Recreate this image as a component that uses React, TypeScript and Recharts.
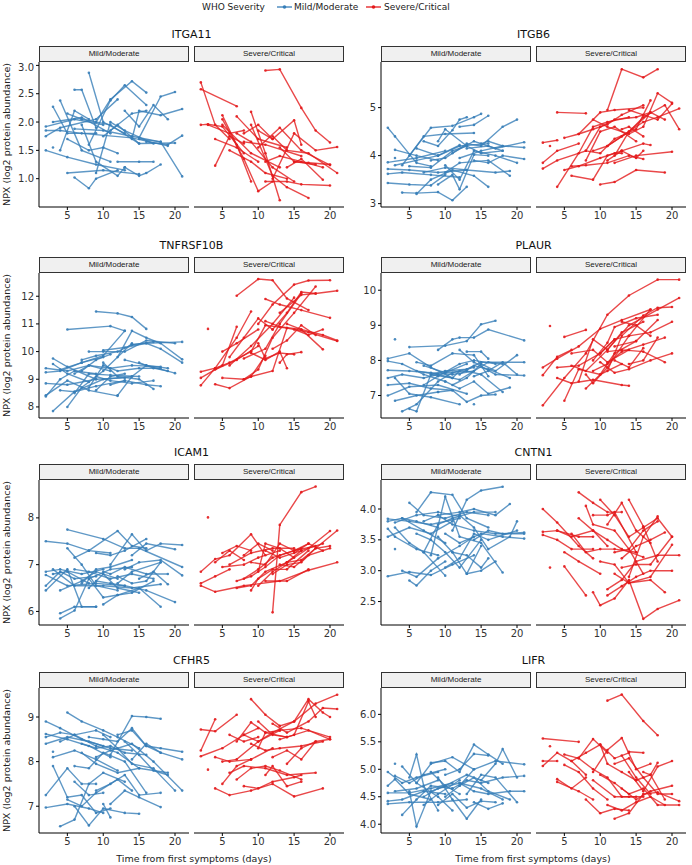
import { LineChart, Line, XAxis, YAxis } from 'recharts'

const BLUE = '#377EB8'
const RED = '#E41A1C'

// one entry per patient: day, NPX, day, NPX, ...
const itga11Mild = [
  [2, 1.92, 6, 2.05, 10, 1.95], [2, 1.75, 4, 1.9, 9, 2.05, 12, 2.4], [2, 1.5, 5, 1.38, 9, 1.25, 13, 1.15],
  [3, 2.27, 5, 1.8, 9, 1.8], [3, 1.55], [4, 2.38, 7, 1.5, 11, 1.3], [4, 1.5, 6, 2.2, 8, 2.05],
  [5, 2.15, 7, 2.05, 11, 1.95, 15, 1.62], [5, 1.1, 10, 1.15, 15, 1.08], [6, 2.57, 7, 2.57, 9, 1.9],
  [6, 1.02, 8, 0.83, 9, 1.0, 12, 1.15], [6, 1.88, 10, 1.85, 14, 1.75, 18, 1.65], [7, 1.95, 9, 1.3, 12, 1.05, 13, 1.2],
  [8, 2.87, 10, 2.0, 13, 1.8], [8, 1.6, 11, 2.38, 13, 2.65, 16, 2.3], [9, 2.0, 11, 2.4, 14, 2.72, 16, 2.52],
  [9, 1.1, 11, 2.0, 13, 1.85, 17, 1.62], [10, 1.75, 12, 1.95, 15, 1.62, 20, 1.63], [11, 1.85, 14, 2.15, 16, 2.2],
  [12, 1.3, 15, 1.3, 17, 1.3], [13, 2.2, 15, 1.92, 17, 2.3, 19, 2.05], [13, 1.2, 15, 1.05, 16, 1.1, 18, 1.25],
  [14, 1.7, 15, 2.2, 18, 2.12, 21, 2.23], [15, 1.72, 18, 2.45, 20, 2.53], [15, 1.7, 18, 1.65, 21, 1.04],
  [16, 1.65, 19, 1.6, 21, 1.76], [5, 1.7, 8, 1.5, 10, 1.55, 12, 1.45], [2, 1.85, 4, 1.85, 7, 1.8, 14, 1.72, 19, 1.58],
  [3, 2.0, 7, 2.08, 11, 1.8],
]
const itga11Severe = [
  [2, 2.7, 4, 1.95, 6, 1.7], [2, 2.58, 7, 2.28], [2, 1.95, 3, 1.96, 5, 1.92, 8, 1.45], [4, 1.7, 7, 1.55, 10, 1.3],
  [4, 1.23, 6, 1.75, 8, 1.62], [5, 2.12, 7, 1.6, 9, 0.95], [5, 2.05, 8, 1.35, 10, 0.78, 12, 0.95],
  [5, 1.95, 9, 1.45, 13, 1.2], [6, 1.5, 9, 1.3, 11, 1.1, 14, 1.0], [7, 2.1, 10, 1.7, 14, 1.55],
  [7, 1.8, 9, 1.65, 12, 1.2, 15, 0.95], [8, 1.65, 11, 1.6, 16, 1.4], [9, 2.18, 11, 1.45, 13, 0.62],
  [9, 1.95, 12, 1.05, 14, 0.85, 17, 0.66], [10, 1.85, 12, 1.7, 15, 2.03, 16, 1.6], [10, 1.55, 13, 1.9, 16, 1.5, 20, 1.24],
  [11, 2.91, 13, 2.93, 16, 2.25, 18, 1.85, 20, 1.64], [11, 0.95, 14, 0.95, 16, 0.9, 20, 0.88],
  [11, 1.3, 13, 1.4, 16, 1.3, 19, 1.2], [12, 1.0, 15, 1.8, 18, 1.5, 21, 1.56], [12, 1.75, 14, 1.5, 17, 1.45, 21, 1.1],
  [13, 1.55, 15, 1.3, 18, 1.25], [14, 1.2, 16, 1.35, 19, 0.98], [15, 1.3, 17, 1.28, 20, 1.25],
  [3, 1.95, 6, 1.8, 8, 1.85], [8, 1.8, 10, 1.95, 12, 1.7],
]
const itgb6Mild = [
  [2, 4.58, 3, 4.4, 6, 3.85, 8, 3.78], [2, 3.86, 6, 3.95, 10, 4.1], [2, 3.72, 5, 3.7, 9, 3.65, 13, 3.7],
  [2, 3.62, 4, 3.65, 8, 3.6, 12, 3.55], [2, 3.43, 5, 3.4, 8, 3.38, 10, 3.6], [3, 4.12, 6, 4.0, 9, 3.9], [3, 3.95],
  [4, 3.23, 6, 3.22, 9, 3.24, 11, 3.07, 13, 3.35], [4, 3.8, 7, 4.4, 10, 4.45, 14, 4.47],
  [5, 4.0, 8, 4.58, 11, 4.62, 14, 4.8, 15, 4.87], [5, 3.78, 8, 3.75, 11, 4.1, 13, 4.2],
  [6, 3.2, 8, 3.5, 11, 3.7, 14, 3.58, 16, 3.35], [6, 4.15, 9, 4.0, 12, 4.2, 16, 4.25],
  [7, 3.65, 10, 3.75, 13, 3.7, 17, 3.65, 19, 3.68], [7, 4.3, 9, 4.2, 11, 4.53, 12, 4.75, 13, 4.8],
  [8, 3.9, 10, 3.95, 13, 4.25, 15, 4.2, 18, 4.6, 20, 4.75], [9, 3.4, 11, 3.6, 12, 3.3, 14, 4.02, 16, 4.0],
  [9, 4.3, 10, 4.55, 13, 4.2, 15, 4.05, 18, 4.1], [10, 3.8, 12, 3.5, 14, 4.1, 17, 4.0, 20, 3.85],
  [10, 3.65, 12, 3.85, 16, 3.9, 19, 3.58], [11, 4.05, 14, 4.3, 17, 4.15, 21, 4.28], [12, 3.95, 15, 4.1, 18, 4.2, 21, 4.17],
  [13, 4.15, 16, 4.2, 18, 4.1], [14, 3.9, 16, 3.85, 18, 4.0, 21, 3.93], [15, 4.25, 16, 4.3, 18, 4.2],
  [3, 3.8, 6, 3.9, 9, 4.0, 12, 4.22], [12, 4.6, 14, 4.64, 16, 4.83],
]
const itgb6Severe = [
  [2, 4.27, 4, 4.32], [3, 4.2], [2, 3.85, 4, 4.1, 7, 4.25], [2, 3.73, 4, 3.9, 8, 4.1, 10, 4.6], [4, 4.9, 8, 4.88],
  [4, 3.35, 7, 4.05, 9, 4.6, 11, 4.7, 14, 4.8], [5, 3.7, 7, 3.78, 10, 3.95, 13, 4.1],
  [5, 4.37, 7, 4.45, 10, 4.9, 12, 4.95, 16, 5.0], [6, 3.78, 8, 3.8, 11, 3.85, 14, 4.0, 16, 3.93],
  [6, 3.58, 9, 3.5, 11, 4.0, 12, 4.05, 13, 4.05], [7, 4.45, 9, 4.55, 11, 4.65, 13, 4.85, 16, 5.05],
  [8, 4.1, 10, 4.05, 12, 4.35, 15, 4.55, 17, 5.15], [9, 4.75, 11, 4.6, 14, 4.45, 16, 4.6, 18, 5.3, 20, 5.1],
  [10, 3.4, 12, 3.45, 15, 3.7, 19, 3.65], [10, 4.6, 12, 4.75, 15, 4.8, 17, 4.9], [11, 4.95, 13, 5.8, 16, 5.63, 18, 5.8],
  [11, 3.9, 13, 4.1, 16, 4.25, 17, 4.22], [11, 4.2, 13, 4.4, 16, 4.7, 18, 4.8, 21, 4.98],
  [12, 4.0, 14, 4.5, 16, 4.8, 19, 5.05, 21, 4.55], [12, 3.85, 15, 4.0, 20, 4.08], [13, 4.55, 14, 4.6, 16, 4.4],
  [14, 4.95, 16, 4.85, 18, 4.75, 20, 5.08], [8, 3.9, 10, 4.5, 12, 4.6, 15, 4.3], [9, 4.1, 11, 4.2, 14, 4.5, 17, 4.9, 19, 4.75],
  [13, 4.1, 15, 3.95, 16, 4.1],
]
const tnfMild = [
  [2, 9.4, 5, 9.3, 8, 9.5, 11, 9.3], [2, 9.25, 4, 9.3, 7, 9.6, 10, 9.8], [2, 8.85, 5, 8.8, 9, 9.0, 13, 9.05],
  [2, 8.38, 4, 9.0, 6, 9.3, 9, 9.2], [2, 8.42, 5, 8.95, 8, 8.6, 12, 8.4], [3, 9.55, 5, 9.2, 8, 8.9],
  [3, 7.85, 6, 8.55, 10, 9.0, 14, 9.1], [3, 9.75, 5, 9.45, 9, 9.0], [4, 8.6, 6, 8.55, 9, 8.75, 13, 8.95],
  [4, 9.35, 7, 9.6, 10, 9.85, 13, 10.75], [5, 10.8, 11, 10.92, 13, 10.75], [5, 8.0, 7, 8.7, 10, 9.3, 14, 10.3],
  [6, 9.2, 8, 9.5, 11, 9.4, 14, 9.5, 18, 9.45], [6, 8.5, 8, 9.2, 11, 9.15, 15, 9.1],
  [7, 9.7, 9, 9.85, 12, 10.0, 14, 10.25, 17, 10.35], [8, 10.0, 10, 10.0, 13, 10.0, 16, 10.4, 20, 10.3],
  [8, 8.7, 10, 9.5, 12, 9.3, 15, 9.4, 18, 9.4], [9, 11.45, 12, 11.38, 14, 11.25, 16, 10.82],
  [9, 9.1, 11, 8.95, 14, 8.85, 17, 8.95], [10, 9.6, 12, 9.1, 15, 9.0, 17, 8.65], [10, 10.05, 13, 10.15, 16, 10.3, 21, 10.35],
  [11, 8.8, 13, 8.95, 16, 8.8, 18, 8.75], [12, 8.42, 14, 9.1, 16, 9.5, 19, 9.4],
  [12, 9.8, 14, 10.75, 16, 10.5, 18, 10.3, 21, 9.72], [13, 9.7, 16, 9.5, 20, 9.22], [14, 10.25, 16, 10.3, 18, 10.1, 21, 9.6],
  [15, 9.6, 17, 9.4, 19, 9.3], [7, 9.3, 9, 9.7, 11, 9.9], [9, 8.6, 11, 9.1, 13, 9.2],
]
const tnfSevere = [
  [2, 9.27, 4, 9.4, 6, 9.6, 9, 10.0], [2, 9.05, 5, 9.5, 7, 10.9], [2, 8.78, 4, 9.4, 7, 10.5, 9, 11.45], [3, 10.82],
  [4, 9.35, 7, 9.7, 10, 10.2], [4, 8.82, 6, 8.68, 9, 9.1, 12, 9.3, 14, 10.85], [5, 10.0, 7, 10.3, 10, 10.8],
  [5, 9.05, 8, 9.0, 9, 9.1, 11, 9.85], [6, 9.5, 9, 10.2, 12, 11.0, 15, 11.95],
  [7, 12.02, 10, 12.62, 12, 12.58, 14, 11.92, 17, 11.5], [8, 9.75, 11, 10.1, 13, 11.0, 16, 12.1],
  [8, 9.0, 10, 9.35, 12, 10.5, 15, 11.4, 18, 12.35], [9, 10.0, 11, 10.95, 14, 10.85, 17, 10.7, 21, 10.38],
  [9, 9.95, 11, 9.7, 13, 10.0, 14, 9.4], [10, 10.3, 11, 9.75, 13, 9.95, 15, 9.9],
  [10, 11.0, 12, 11.7, 15, 12.42, 17, 12.57, 20, 12.58], [11, 11.9, 13, 11.7, 16, 11.5, 20, 11.22],
  [11, 11.1, 13, 10.9, 16, 10.8, 19, 10.08], [12, 10.1, 14, 10.4, 16, 10.95, 18, 10.6],
  [12, 10.8, 14, 11.4, 16, 12.15, 18, 12.1, 21, 12.2], [13, 9.6, 14, 9.9, 16, 9.98], [13, 11.4, 16, 12.05, 18, 12.1],
  [14, 11.0, 16, 10.8, 19, 10.6, 21, 10.4], [6, 9.8, 8, 10.5, 10, 11.2, 12, 10.8], [15, 10.8, 17, 10.6, 19, 10.8],
]
const plaurMild = [
  [2, 8.05, 5, 8.2, 8, 7.8, 11, 7.5], [2, 7.98, 4, 7.9, 7, 7.6, 10, 7.4], [2, 7.72, 5, 7.7, 8, 7.65, 11, 7.6, 14, 7.7],
  [2, 7.5, 4, 7.6, 7, 7.5, 9, 7.6], [2, 7.3, 5, 7.35, 8, 7.2, 11, 7.15], [2, 7.0, 5, 7.25, 9, 7.3, 13, 7.05], [3, 8.6],
  [3, 7.5, 5, 7.05, 8, 6.95, 12, 6.75], [3, 6.85, 6, 7.0, 9, 7.1], [4, 6.55, 6, 6.75, 9, 7.4, 11, 7.65, 14, 7.8],
  [5, 8.38, 10, 8.42, 13, 8.55, 15, 9.03, 17, 9.13], [5, 6.62, 6, 6.55, 8, 7.6, 11, 7.5, 12, 7.7],
  [6, 7.95, 8, 7.85, 11, 8.2, 14, 8.15, 16, 7.55], [6, 7.7, 9, 7.6, 12, 7.45, 16, 7.95, 18, 7.9],
  [7, 7.3, 9, 7.55, 12, 7.9, 14, 8.0, 17, 7.9], [8, 7.6, 10, 7.7, 13, 7.75, 15, 7.95, 21, 7.95],
  [9, 8.3, 11, 8.6, 12, 8.65, 14, 8.65, 16, 8.88, 21, 8.57], [9, 7.1, 11, 7.15, 13, 6.82, 15, 7.0, 17, 7.03],
  [10, 7.4, 12, 7.2, 14, 7.4, 16, 7.05, 19, 7.23], [10, 7.65, 13, 7.7, 15, 7.6, 18, 7.1],
  [11, 7.3, 13, 7.5, 15, 7.9, 17, 7.7, 20, 8.15], [12, 7.6, 14, 7.85, 16, 7.75, 19, 7.5],
  [12, 8.3, 14, 7.95, 17, 7.6, 21, 7.57], [13, 8.25, 15, 8.25, 16, 8.05], [14, 6.75],
  [14, 7.55, 16, 7.7, 18, 7.95, 20, 7.6], [7, 7.85, 10, 7.65, 13, 7.9],
]
const plaurSevere = [
  [2, 6.72, 5, 7.5, 8, 8.2, 11, 9.3, 14, 9.85, 18, 10.3, 21, 10.3], [2, 7.8, 4, 8.05, 7, 8.4, 10, 8.9, 13, 9.15, 17, 9.45],
  [2, 7.58, 4, 8.1, 6, 8.3], [3, 8.98], [4, 7.8, 7, 7.85, 10, 8.2, 12, 8.6], [4, 7.5, 6, 7.35, 9, 7.45, 13, 7.3, 14, 7.28],
  [5, 8.67, 8, 8.87], [5, 6.85, 7, 7.75, 10, 7.6, 13, 7.9], [6, 7.85, 8, 7.7, 11, 8.3, 14, 9.0, 18, 9.45, 21, 9.78],
  [7, 7.4, 9, 8.6, 11, 8.3, 13, 8.8, 16, 9.1], [8, 7.2, 10, 7.6, 12, 8.2, 15, 8.55],
  [8, 7.6, 9, 7.35, 11, 7.8, 14, 8.7, 17, 9.45], [9, 7.7, 11, 7.9, 13, 8.25, 16, 8.45, 19, 8.65],
  [9, 8.0, 11, 8.5, 12, 8.95, 15, 9.2, 18, 9.3], [10, 8.2, 12, 8.6, 14, 8.7, 17, 8.8, 20, 9.1],
  [10, 7.95, 12, 7.65, 14, 7.75, 17, 8.0, 20, 8.2], [11, 8.25, 13, 8.3, 16, 8.25, 19, 7.95],
  [11, 7.7, 13, 8.7, 16, 9.28, 18, 9.5, 20, 9.52], [12, 8.0, 14, 7.8, 16, 8.35], [12, 8.4, 15, 8.55, 18, 9.15],
  [13, 9.1, 15, 9.0, 17, 8.7], [14, 7.9, 16, 8.0, 18, 8.65], [6, 8.2, 9, 8.3, 11, 7.95, 14, 8.3],
]
const icam1Mild = [
  [2, 7.5, 5, 7.45, 8, 7.3, 11, 7.25], [2, 6.85, 4, 6.9, 7, 6.8, 10, 6.9], [2, 6.78, 5, 6.55, 9, 6.6, 13, 6.55],
  [2, 6.55, 4, 6.85, 6, 6.7, 9, 6.75], [2, 6.45, 5, 6.9, 7, 6.1, 9, 6.1], [3, 6.9, 6, 6.55, 10, 6.55, 14, 6.5, 18, 6.58],
  [4, 5.85, 6, 6.02, 8, 6.7, 11, 6.9, 14, 6.95], [4, 5.96, 6, 6.1, 9, 6.1], [4, 6.45, 7, 6.65, 9, 6.85, 12, 6.7],
  [5, 7.75, 10, 7.55, 13, 7.35, 15, 7.35, 21, 6.95], [5, 7.35, 7, 7.0, 9, 6.55, 12, 6.45],
  [6, 6.9, 8, 6.85, 11, 6.7, 14, 6.8, 17, 6.7], [6, 7.15, 8, 7.3, 12, 7.72, 14, 7.4, 16, 7.35],
  [7, 6.6, 9, 6.9, 11, 6.95, 14, 7.1], [8, 6.5, 10, 6.8, 12, 6.5, 15, 6.4], [8, 6.7, 10, 6.3, 12, 6.35, 15, 6.5, 18, 6.1],
  [9, 7.25, 11, 7.2, 13, 7.3, 16, 7.55], [9, 6.65, 11, 6.6, 13, 6.55, 16, 6.45, 20, 6.2],
  [10, 6.85, 11, 6.8, 13, 6.95, 16, 6.8, 19, 6.8], [10, 6.15, 12, 6.35, 14, 6.4, 17, 6.65],
  [11, 7.0, 14, 7.65, 16, 7.3, 18, 7.45, 21, 7.42], [12, 6.75, 14, 6.6, 16, 6.65, 18, 7.05],
  [13, 6.9, 15, 7.05, 18, 7.1, 21, 6.77], [14, 7.2, 16, 7.45, 20, 7.33], [15, 6.7, 17, 6.85, 19, 6.58],
  [3, 6.8, 5, 6.85, 8, 6.6], [12, 6.6, 14, 6.85, 18, 7.05],
]
const icam1Severe = [
  [2, 6.85, 4, 7.12, 6, 7.2, 9, 7.65, 11, 7.2], [2, 6.6, 4, 6.75, 6, 6.9], [2, 6.55, 4, 6.42, 8, 6.55, 13, 6.65, 17, 6.88, 21, 7.05],
  [3, 8.01], [4, 7.05, 6, 7.3, 8, 7.1], [5, 7.25, 7, 7.4, 9, 7.3], [5, 6.95, 8, 7.0, 10, 7.15, 13, 7.3],
  [6, 7.0, 9, 7.25, 12, 7.35, 15, 7.35], [7, 6.5, 9, 6.55, 11, 6.85, 14, 7.05, 16, 7.3],
  [7, 6.65, 9, 6.75, 11, 6.95, 13, 7.2, 16, 7.35], [8, 6.7, 10, 6.9, 12, 7.15, 15, 7.3, 17, 7.45],
  [9, 6.45, 10, 6.7, 12, 6.9, 14, 6.9, 17, 7.3], [9, 7.05, 11, 7.0, 13, 7.45, 15, 7.3, 18, 7.4],
  [10, 6.55, 12, 6.85, 14, 7.05, 17, 7.35, 20, 7.72], [10, 6.85, 11, 7.45, 13, 7.35, 15, 7.15],
  [11, 7.3, 13, 7.15, 16, 7.3, 19, 7.45], [12, 5.98, 13, 7.85, 16, 8.55, 18, 8.67], [11, 6.65, 14, 6.65, 17, 6.9],
  [12, 6.8, 14, 7.0, 16, 7.05, 18, 7.35, 21, 7.73], [13, 7.0, 15, 6.95, 17, 7.2, 20, 7.35],
  [14, 7.05, 16, 7.1, 18, 7.35, 20, 7.4], [8, 7.2, 10, 7.45, 12, 7.3], [15, 7.25, 17, 7.45, 19, 7.3],
]
const cntn1Mild = [
  [2, 3.84, 5, 3.8, 8, 3.75, 12, 3.85], [2, 3.8, 4, 3.85, 7, 3.65, 10, 3.45], [2, 3.68, 3, 3.55, 6, 3.35, 9, 3.25],
  [2, 3.55, 5, 3.7, 8, 3.6, 11, 3.8], [2, 2.91, 5, 2.98, 8, 2.93, 11, 3.1, 14, 3.25], [3, 3.35],
  [3, 3.7, 5, 3.45, 7, 3.3, 10, 2.92], [4, 3.0, 6, 2.9, 9, 3.2, 12, 3.4, 14, 3.55],
  [5, 4.1, 7, 3.9, 10, 3.85, 13, 3.95, 16, 3.9], [5, 2.84, 6, 2.76, 8, 3.0, 10, 3.15],
  [6, 3.95, 8, 4.27, 11, 4.23, 13, 3.85, 16, 3.7], [6, 3.6, 8, 3.5, 10, 3.3, 12, 3.05, 15, 3.5],
  [7, 3.8, 9, 3.9, 11, 3.75, 14, 3.65, 17, 3.6, 21, 3.6], [7, 3.3, 9, 3.75, 11, 3.85, 14, 3.95, 17, 3.95],
  [8, 3.25, 10, 4.2, 12, 3.55, 15, 3.45, 18, 2.97], [9, 3.55, 11, 3.3, 13, 2.95, 15, 3.4],
  [9, 3.9, 12, 3.95, 14, 4.0, 17, 3.9, 19, 4.08], [10, 3.6, 12, 3.45, 15, 3.6, 18, 3.55, 21, 3.52],
  [10, 3.05, 12, 3.2, 14, 3.6, 16, 3.5, 20, 3.65], [11, 3.3, 13, 3.25, 15, 3.05, 16, 3.2],
  [11, 3.65, 13, 4.15, 15, 4.3, 18, 4.36], [12, 3.9, 14, 3.7, 16, 3.35, 19, 3.55, 20, 3.8],
  [13, 2.95, 15, 3.0, 17, 3.15], [14, 3.5, 16, 3.65, 18, 3.6, 21, 3.62], [4, 3.85, 6, 3.8, 9, 3.7],
  [3, 3.78, 6, 3.9, 9, 3.95, 12, 3.88],
]
const cntn1Severe = [
  [2, 4.0, 4, 3.78, 7, 3.4, 9, 3.2], [2, 3.63, 4, 3.65, 7, 3.55, 9, 3.55], [2, 3.58, 4, 3.5, 6, 3.35, 9, 3.35], [3, 3.05],
  [4, 3.65, 6, 3.55, 9, 3.65, 11, 3.4], [5, 3.3, 7, 3.15, 10, 2.95], [5, 3.07, 8, 2.6],
  [6, 3.6, 8, 3.3, 10, 3.35, 12, 3.35, 15, 3.3], [7, 4.27, 9, 4.1, 11, 3.95, 13, 3.95],
  [7, 3.85, 9, 3.65, 11, 3.5, 13, 3.35, 16, 3.22], [8, 4.05, 9, 3.75, 12, 3.65, 14, 3.35, 16, 2.95],
  [9, 2.65, 10, 2.44, 12, 2.55, 14, 2.85, 16, 2.22, 18, 2.38, 21, 2.52], [9, 3.9, 11, 3.9, 12, 3.95, 15, 3.3],
  [10, 4.15, 12, 3.9, 14, 3.55, 16, 3.7], [10, 3.15, 12, 3.1, 14, 2.8, 17, 2.85, 19, 2.65],
  [11, 2.7, 13, 2.85, 15, 3.15, 18, 3.25, 21, 3.25], [11, 3.75, 13, 4.1, 15, 3.65, 17, 3.45],
  [11, 2.6, 13, 2.75, 15, 2.9, 17, 3.0, 20, 3.0], [12, 3.3, 14, 3.35, 16, 3.65, 18, 3.8],
  [12, 2.95, 14, 2.8, 17, 2.9, 20, 3.42], [13, 3.2, 15, 3.4, 17, 3.5, 19, 3.62], [14, 2.9, 16, 3.55, 18, 3.88],
  [14, 4.15, 16, 3.72, 18, 3.15], [13, 3.05, 15, 3.1, 17, 3.1, 20, 3.55], [16, 3.7, 18, 3.85, 20, 3.55],
]
const cfhr5Mild = [
  [2, 8.9, 4, 8.75, 7, 8.5, 10, 8.35], [2, 8.62, 5, 8.5, 8, 8.35, 11, 8.1], [2, 8.55, 4, 8.65, 6, 8.6, 9, 8.7, 11, 8.55],
  [2, 8.4, 5, 8.55, 8, 8.45, 11, 8.3, 14, 8.25], [2, 7.25, 5, 7.85, 7, 7.5, 9, 7.5], [2, 6.97, 5, 7.05, 8, 6.95, 10, 6.85],
  [3, 8.22], [3, 8.1, 6, 8.25, 9, 8.05, 12, 7.8], [3, 7.9, 5, 7.2, 7, 7.25, 9, 6.85, 11, 6.95],
  [4, 8.45, 6, 8.6, 9, 8.35, 12, 8.2, 15, 7.85], [4, 6.55, 6, 6.7, 8, 7.5, 10, 7.75, 13, 7.55],
  [5, 9.1, 7, 8.9, 10, 8.7, 12, 8.55, 15, 8.3], [5, 7.15, 7, 7.0, 9, 7.3, 12, 7.6, 14, 7.35],
  [6, 7.9, 8, 7.85, 10, 8.2, 13, 8.0, 16, 7.3], [6, 7.0, 8, 6.57, 10, 6.95, 13, 6.85, 15, 6.83],
  [7, 8.4, 9, 8.3, 11, 8.35, 13, 8.2, 16, 8.15], [7, 8.2, 9, 7.95, 12, 7.75, 15, 7.85, 19, 7.75],
  [8, 8.55, 10, 8.5, 12, 8.45, 14, 8.75, 16, 8.35, 18, 8.2], [9, 8.1, 11, 8.25, 14, 8.4, 17, 8.0, 21, 7.35],
  [9, 7.35, 11, 7.5, 13, 7.7, 15, 7.25, 18, 7.3], [10, 8.6, 12, 8.3, 14, 7.95, 17, 7.85, 20, 7.35],
  [11, 8.15, 14, 9.02, 16, 9.0, 18, 8.96], [11, 7.05, 13, 7.35, 15, 7.2, 18, 6.98],
  [12, 8.6, 14, 8.7, 16, 8.35, 18, 8.3, 21, 8.22], [13, 8.45, 15, 8.15, 17, 7.8, 19, 7.7],
  [14, 8.05, 16, 8.4, 18, 8.2, 21, 8.05], [10, 7.05, 11, 6.75], [6, 7.55, 8, 7.25, 10, 7.3],
]
const cfhr5Severe = [
  [2, 8.72, 4, 8.68, 7, 9.05], [2, 8.25, 4, 8.95], [2, 8.12, 5, 8.3, 8, 8.6, 10, 8.75], [3, 7.82],
  [4, 8.1, 6, 8.0, 9, 8.05, 12, 8.3], [4, 7.4, 6, 7.25, 9, 7.35, 12, 7.5, 15, 7.22, 19, 7.4], [5, 7.5, 7, 7.9, 9, 8.05],
  [5, 8.0, 7, 8.05, 10, 8.45, 13, 8.7], [6, 7.75, 8, 7.9, 11, 7.85, 14, 7.7, 18, 7.75],
  [7, 8.45, 9, 8.88, 11, 8.65, 14, 8.55], [7, 7.6, 9, 7.85, 11, 7.9, 13, 7.8, 16, 7.6],
  [8, 8.6, 10, 8.45, 12, 8.65, 15, 8.9, 18, 9.3, 21, 9.5], [8, 7.45, 10, 7.4, 12, 7.55, 15, 7.65, 16, 7.7],
  [9, 9.4, 11, 9.05, 13, 8.8, 15, 8.9, 17, 9.4, 19, 9.1, 20, 9.0], [9, 8.4, 11, 8.25, 13, 8.3, 16, 8.35, 19, 8.45],
  [10, 8.3, 11, 8.65, 13, 8.7, 16, 8.75, 20, 8.55], [10, 8.9, 12, 8.6, 14, 8.55, 17, 8.7, 20, 8.5],
  [11, 7.7, 12, 7.9, 14, 7.45, 16, 7.55], [12, 8.1, 14, 8.25, 16, 8.05, 18, 8.45],
  [12, 8.85, 14, 8.65, 17, 8.9, 19, 9.2, 21, 9.18], [13, 8.5, 15, 8.6, 17, 9.35, 18, 9.0],
  [14, 7.95, 16, 8.3, 18, 8.45, 20, 8.5], [6, 8.6, 8, 8.45, 10, 8.55],
]
const lifrMild = [
  [2, 4.95, 4, 4.75, 6, 4.85, 9, 4.95], [2, 4.7, 3, 4.82, 5, 4.55, 8, 4.45], [2, 4.57, 5, 4.57, 8, 4.65, 11, 4.75],
  [2, 4.42, 4, 4.45, 7, 4.6, 10, 4.55], [2, 4.37, 5, 4.4, 9, 4.4, 13, 4.45], [3, 5.1],
  [3, 4.88, 5, 4.75, 7, 4.9, 10, 5.0], [4, 4.17, 6, 4.45, 8, 4.7, 11, 4.65], [4, 5.05, 6, 4.75, 9, 4.5, 11, 4.25],
  [5, 4.85, 6, 5.27, 7, 4.7, 9, 4.25], [5, 4.6, 6, 3.96, 8, 4.6, 10, 4.7, 12, 4.55],
  [6, 4.75, 8, 5.1, 11, 5.22, 14, 5.0], [7, 4.5, 9, 4.65, 12, 4.75, 15, 4.65, 18, 4.45],
  [8, 4.95, 10, 4.7, 13, 4.9, 16, 4.75], [8, 5.12, 10, 5.15, 12, 4.95, 14, 5.45, 16, 5.27, 18, 5.1],
  [9, 4.85, 11, 4.45, 13, 4.1, 15, 4.45], [9, 4.35, 11, 4.55, 13, 4.3, 15, 4.42, 17, 4.4],
  [10, 4.5, 12, 4.7, 14, 5.0, 17, 5.15, 21, 5.09], [10, 4.9, 12, 5.0, 14, 5.28, 16, 5.25],
  [11, 4.65, 13, 4.8, 15, 4.75, 18, 4.85, 21, 4.88], [12, 4.7, 14, 4.85, 16, 4.6, 19, 4.45],
  [12, 4.75, 14, 4.6, 16, 4.55, 19, 4.6, 21, 4.6], [13, 4.55, 15, 4.9, 17, 4.85, 20, 4.4],
  [14, 4.4, 16, 4.28, 18, 4.38], [15, 4.8, 17, 5.1, 18, 5.37, 20, 4.85], [7, 4.35, 9, 4.55, 12, 4.8],
  [3, 4.6, 6, 4.65, 9, 4.8],
]
const lifrSevere = [
  [2, 5.56, 7, 5.5], [3, 5.42], [2, 5.15, 4, 5.15], [2, 5.06, 4, 5.3, 6, 5.15, 8, 4.9], [4, 4.82, 6, 4.65, 8, 4.85],
  [4, 4.77, 7, 4.6, 9, 4.45], [5, 5.27, 7, 5.2, 9, 5.55, 11, 5.3], [5, 5.08, 7, 4.95, 9, 4.65, 11, 4.45],
  [6, 5.15, 8, 5.3, 10, 5.45, 12, 5.2, 14, 5.3], [7, 5.2, 9, 5.0, 11, 4.85, 13, 4.5, 15, 4.5],
  [8, 4.45, 10, 4.2, 12, 4.28, 14, 4.25], [9, 4.95, 11, 5.35, 13, 5.57, 15, 5.0, 17, 5.1],
  [10, 4.9, 12, 4.75, 14, 4.55, 16, 4.65, 18, 4.35, 21, 4.35], [10, 5.45, 11, 5.1, 13, 4.95, 15, 4.8],
  [11, 6.25, 13, 6.36, 16, 5.88, 18, 5.62], [11, 4.35, 13, 4.25, 15, 4.4, 17, 4.5, 19, 4.35],
  [12, 4.1, 14, 4.2, 16, 4.55, 18, 4.58, 21, 4.42], [12, 5.1, 14, 5.2, 16, 4.85, 18, 4.55, 20, 4.55],
  [13, 4.65, 15, 4.45, 17, 4.6, 20, 4.7], [14, 5.32, 16, 5.3], [14, 4.95, 16, 4.6, 18, 5.05, 20, 5.15],
  [15, 4.8, 17, 4.9, 19, 4.45], [16, 4.95, 17, 4.9, 18, 5.12], [9, 4.8, 12, 4.5, 14, 4.5, 16, 4.5],
  [13, 5.25, 15, 4.85, 17, 4.55],
]

const dayTicks = [5, 10, 15, 20]

type Panel = {
  name: string
  mild: number[][]
  severe: number[][]
  domain: [number, number]
  ticks: number[]
  digits: number
}

const panels: Panel[] = [
  { name: 'ITGA11', mild: itga11Mild, severe: itga11Severe, domain: [0.5, 3.06], ticks: [1, 1.5, 2, 2.5, 3], digits: 1 },
  { name: 'ITGB6', mild: itgb6Mild, severe: itgb6Severe, domain: [2.93, 5.95], ticks: [3, 4, 5], digits: 0 },
  { name: 'TNFRSF10B', mild: tnfMild, severe: tnfSevere, domain: [7.6, 12.84], ticks: [8, 9, 10, 11, 12], digits: 0 },
  { name: 'PLAUR', mild: plaurMild, severe: plaurSevere, domain: [6.36, 10.49], ticks: [7, 8, 9, 10], digits: 0 },
  { name: 'ICAM1', mild: icam1Mild, severe: icam1Severe, domain: [5.71, 8.81], ticks: [6, 7, 8], digits: 0 },
  { name: 'CNTN1', mild: cntn1Mild, severe: cntn1Severe, domain: [2.12, 4.47], ticks: [2.5, 3, 3.5, 4], digits: 1 },
  { name: 'CFHR5', mild: cfhr5Mild, severe: cfhr5Severe, domain: [6.4, 9.65], ticks: [7, 8, 9], digits: 0 },
  { name: 'LIFR', mild: lifrMild, severe: lifrSevere, domain: [3.84, 6.48], ticks: [4, 4.5, 5, 5.5, 6], digits: 1 },
]

const ROW_TOPS = [46, 257, 464, 672]
const AXIS_X = [39, 381]
const FACET_W = 150
const GAP = 5
const STRIP_H = 16
const PLOT_H = 145
const XAXIS_H = 22
const YAXIS_W = 26
const FONT = '"DejaVu Sans", Verdana, sans-serif'
const TICK = { fontSize: 10, fill: '#333', fontFamily: FONT }

function toPoints(flat: number[]) {
  const pts: { day: number; npx: number }[] = []
  for (let i = 0; i < flat.length; i += 2) pts.push({ day: flat[i], npx: flat[i + 1] })
  return pts
}

function Facet({ series, color, left, top, withAxis, panel }: {
  series: number[][]
  color: string
  left: number
  top: number
  withAxis: boolean
  panel: Panel
}) {
  const axisW = withAxis ? YAXIS_W : 0
  return (
    <div style={{ position: 'absolute', left: left - axisW, top }}>
      <LineChart width={FACET_W + axisW} height={PLOT_H + XAXIS_H} margin={{ top: 0, right: 0, bottom: 0, left: 0 }}>
        <XAxis
          type="number"
          dataKey="day"
          domain={[1.05, 21.95]}
          ticks={dayTicks}
          allowDataOverflow
          height={XAXIS_H}
          tickSize={3}
          axisLine={{ stroke: '#000', strokeWidth: 1 }}
          tickLine={{ stroke: '#000' }}
          tick={TICK}
        />
        <YAxis
          type="number"
          dataKey="npx"
          domain={panel.domain}
          ticks={panel.ticks}
          allowDataOverflow
          hide={!withAxis}
          width={axisW}
          tickSize={3}
          tickFormatter={(v: number) => v.toFixed(panel.digits)}
          axisLine={{ stroke: '#000', strokeWidth: 1 }}
          tickLine={{ stroke: '#000' }}
          tick={TICK}
        />
        {series.map((s, i) => (
          <Line
            key={i}
            data={toPoints(s)}
            dataKey="npx"
            type="linear"
            stroke={color}
            strokeWidth={1.4}
            strokeOpacity={0.8}
            dot={{ r: 1.3, fill: color, stroke: 'none', fillOpacity: 0.9 }}
            activeDot={false}
            isAnimationActive={false}
          />
        ))}
      </LineChart>
    </div>
  )
}

function Strip({ label, left, top }: { label: string; left: number; top: number }) {
  return (
    <div
      style={{
        position: 'absolute',
        left,
        top,
        width: FACET_W,
        height: STRIP_H,
        boxSizing: 'border-box',
        border: '1px solid #333',
        background: '#f0f0f0',
        fontFamily: '"Liberation Sans", Arial, sans-serif',
        fontSize: 8,
        lineHeight: '14px',
        textAlign: 'center',
        color: '#1a1a1a',
      }}
    >
      {label}
    </div>
  )
}

export default function App() {
  return (
    <div style={{ position: 'absolute', left: 0, top: 0, width: 692, height: 865, background: '#fff', fontFamily: FONT }}>
      {panels.map((p, idx) => {
        const col = idx % 2
        const row = Math.floor(idx / 2)
        const stripTop = ROW_TOPS[row]
        const x1 = AXIS_X[col]
        const x2 = x1 + FACET_W + GAP
        return (
          <div key={p.name}>
            <Strip label="Mild/Moderate" left={x1} top={stripTop} />
            <Strip label="Severe/Critical" left={x2} top={stripTop} />
            <Facet series={p.mild} color={BLUE} left={x1} top={stripTop + STRIP_H} withAxis panel={p} />
            <Facet series={p.severe} color={RED} left={x2} top={stripTop + STRIP_H} withAxis={false} panel={p} />
          </div>
        )
      })}
      <svg width={692} height={865} style={{ position: 'absolute', left: 0, top: 0, pointerEvents: 'none' }}>
        <text x={202} y={10} fontSize={9} fontFamily={FONT} fill="#222">WHO Severity</text>
        <line x1={277} x2={292} y1={7} y2={7} stroke={BLUE} strokeWidth={1.3} />
        <circle cx={284.5} cy={7} r={1.8} fill={BLUE} />
        <text x={294} y={10} fontSize={9} fontFamily={FONT} fill="#222">Mild/Moderate</text>
        <line x1={366} x2={381} y1={7} y2={7} stroke={RED} strokeWidth={1.3} />
        <circle cx={373.5} cy={7} r={1.8} fill={RED} />
        <text x={384} y={10} fontSize={9} fontFamily={FONT} fill="#222">Severe/Critical</text>
        {panels.map((p, idx) => {
          const col = idx % 2
          const row = Math.floor(idx / 2)
          const stripTop = ROW_TOPS[row]
          const x1 = AXIS_X[col]
          const cx = x1 + FACET_W + GAP / 2
          const plotMid = stripTop + STRIP_H + PLOT_H / 2
          return (
            <g key={p.name}>
              <text x={cx} y={stripTop - 8} textAnchor="middle" fontSize={11} fontWeight="normal" fontFamily={FONT} fill="#111">
                {p.name}
              </text>
              {col === 0 && (
                <text
                  x={10}
                  y={plotMid}
                  transform={`rotate(-90 10 ${plotMid})`}
                  textAnchor="middle"
                  fontSize={9.5}
                  fontFamily={FONT}
                  fill="#222"
                >
                  NPX (log2 protein abundance)
                </text>
              )}
            </g>
          )
        })}
        <text x={194} y={862} textAnchor="middle" fontSize={9.5} fontFamily={FONT} fill="#222">
          Time from first symptoms (days)
        </text>
        <text x={533} y={862} textAnchor="middle" fontSize={9.5} fontFamily={FONT} fill="#222">
          Time from first symptoms (days)
        </text>
      </svg>
    </div>
  )
}
